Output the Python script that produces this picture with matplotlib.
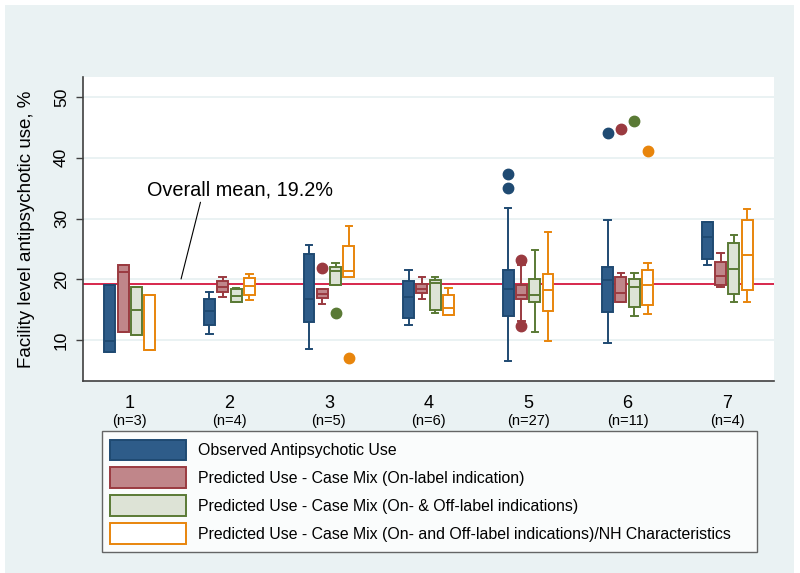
import numpy as np
import matplotlib

matplotlib.use("Agg")

import matplotlib.pyplot as plt
from matplotlib.patches import Patch, Rectangle

plt.rcParams["font.family"] = ["Liberation Sans", "DejaVu Sans"]

# facility groups and sizes
groups = [1, 2, 3, 4, 5, 6, 7]
group_n = [3, 4, 5, 6, 27, 11, 4]

# box stats per group: (low whisker, q1, median, q3, high whisker)
observed = [
    (8.0, 8.0, 9.8, 19.0, 19.0),
    (11.0, 12.5, 14.8, 16.8, 17.9),
    (8.6, 13.0, 16.7, 24.2, 25.6),
    (12.4, 13.7, 17.0, 19.7, 21.5),
    (6.6, 14.0, 18.4, 21.5, 31.7),
    (9.5, 14.6, 19.9, 22.0, 29.8),
    (22.3, 23.3, 26.9, 29.5, 29.5),
]
observed_out = [[], [], [], [], [35.0, 37.4], [44.0], []]

onlabel = [
    (11.4, 11.4, 21.2, 22.3, 22.3),
    (17.1, 17.9, 18.7, 19.7, 20.3),
    (16.0, 16.9, 17.5, 18.4, 18.4),
    (16.7, 17.7, 18.4, 19.2, 20.3),
    (13.2, 16.8, 17.4, 19.0, 22.3),
    (16.3, 16.3, 17.8, 20.4, 21.1),
    (18.8, 19.05, 20.6, 22.9, 24.4),
]
onlabel_out = [[], [], [21.8], [], [12.3, 23.2], [44.8], []]

onoff = [
    (10.8, 10.8, 15.0, 18.7, 18.7),
    (16.2, 16.3, 17.3, 18.4, 18.6),
    (19.05, 19.05, 21.3, 22.1, 22.6),
    (14.4, 15.0, 19.4, 19.8, 20.3),
    (11.4, 16.2, 17.4, 20.0, 24.8),
    (14.0, 15.5, 18.7, 20.0, 21.1),
    (16.2, 17.5, 21.7, 26.0, 27.3),
]
onoff_out = [[], [], [14.4], [], [], [46.0], []]

nh_chars = [
    (8.3, 8.3, 17.4, 17.4, 17.4),
    (16.6, 17.4, 18.9, 20.2, 20.9),
    (20.3, 20.3, 21.3, 25.5, 28.8),
    (14.1, 14.1, 15.2, 17.4, 18.6),
    (9.8, 14.7, 18.2, 20.8, 27.7),
    (14.3, 15.8, 19.1, 21.6, 22.7),
    (16.2, 18.2, 24.0, 29.7, 31.6),
]
nh_chars_out = [[], [], [7.0], [], [], [41.1], []]

overall_mean = 19.2

series_labels = [
    "Observed Antipsychotic Use",
    "Predicted Use - Case Mix (On-label indication)",
    "Predicted Use - Case Mix (On- & Off-label indications)",
    "Predicted Use - Case Mix (On- and Off-label indications)/NH Characteristics",
]
series_stats = [observed, onlabel, onoff, nh_chars]
series_out = [observed_out, onlabel_out, onoff_out, nh_chars_out]

face_colors = ["#2e5c89", "#c0868a", "#dde3d6", "#ffffff"]
edge_colors = ["#1f4a72", "#9a3a40", "#5a7a35", "#e8850c"]
offsets = [-0.2, -0.067, 0.067, 0.2]

fig = plt.figure(figsize=(8.0, 5.73), dpi=100)
fig.patch.set_facecolor("white")
fig.add_artist(Rectangle((5 / 800, 0), 789 / 800, 568 / 573,
                         transform=fig.transFigure, facecolor="#eaf2f3",
                         edgecolor="none", zorder=-10))

ax = fig.add_axes([83 / 800, 1 - 380.7 / 573, 691 / 800, 303.7 / 573])
ax.set_facecolor("white")

for k in range(4):
    stats = []
    for lo, q1, med, q3, hi in series_stats[k]:
        stats.append({"whislo": lo, "q1": q1, "med": med, "q3": q3, "whishi": hi})
    for i, fl in enumerate(series_out[k]):
        stats[i]["fliers"] = np.array(fl)
    ec = edge_colors[k]
    ax.bxp(
        stats,
        positions=np.array(groups) + offsets[k],
        widths=0.11,
        capwidths=0.065,
        patch_artist=True,
        manage_ticks=False,
        boxprops=dict(facecolor=face_colors[k], edgecolor=ec, linewidth=1.4),
        medianprops=dict(color=ec, linewidth=1.4),
        whiskerprops=dict(color=ec, linewidth=1.4),
        capprops=dict(color=ec, linewidth=1.4),
        flierprops=dict(marker="o", markerfacecolor=ec, markeredgecolor=ec,
                        markersize=7.5),
    )

ax.axhline(overall_mean, color="#d4163e", linewidth=1.3, zorder=1.5)

ax.annotate(
    "Overall mean, 19.2%",
    xy=(1.515, 20.05),
    xytext=(1.175, 34.7),
    fontsize=14.3,
    va="center",
    ha="left",
    arrowprops=dict(arrowstyle="-", color="black", linewidth=0.8,
                    shrinkA=0, shrinkB=0,
                    relpos=(0.29, 0.0)),
)

ax.set_xlim(0.53, 7.47)
ax.set_ylim(3.3, 53.3)

ax.set_yticks([10, 20, 30, 40, 50])
ax.tick_params(axis="y", direction="out", length=5, width=1, color="#404040",
               labelsize=12.5, pad=5)
for lab in ax.get_yticklabels():
    lab.set_rotation(90)
    lab.set_va("center")
ax.yaxis.grid(True, color="#eaf2f3", linewidth=1.4)
ax.set_axisbelow(True)

ax.set_xticks([])
for g, n in zip(groups, group_n):
    ax.text(g, -0.074, str(g), transform=ax.get_xaxis_transform(),
            ha="center", va="center", fontsize=13)
    ax.text(g, -0.133, f"(n={n})", transform=ax.get_xaxis_transform(),
            ha="center", va="center", fontsize=10.5)

ax.set_ylabel("Facility level antipsychotic use, %", fontsize=13.5)
ax.yaxis.set_label_coords(-0.07, 0.5)

for side in ["top", "right"]:
    ax.spines[side].set_visible(False)
for side in ["left", "bottom"]:
    ax.spines[side].set_color("#404040")
    ax.spines[side].set_linewidth(1.2)

handles = [
    Patch(facecolor=face_colors[k], edgecolor=edge_colors[k], linewidth=1.4,
          label=series_labels[k])
    for k in range(4)
]
leg = fig.legend(
    handles=handles,
    loc="upper left",
    bbox_to_anchor=(101.7 / 800, 1 - 431 / 573 - 0.001, 655 / 800, 0.001),
    mode="expand",
    fontsize=11.4,
    frameon=True,
    fancybox=False,
    borderpad=0.54,
    borderaxespad=0,
    handlelength=4.8,
    handleheight=1.65,
    handletextpad=0.73,
    labelspacing=0.44,
)
leg.get_frame().set_edgecolor("#404040")
leg.get_frame().set_linewidth(1.0)

fig.savefig("out.png", dpi=100)
